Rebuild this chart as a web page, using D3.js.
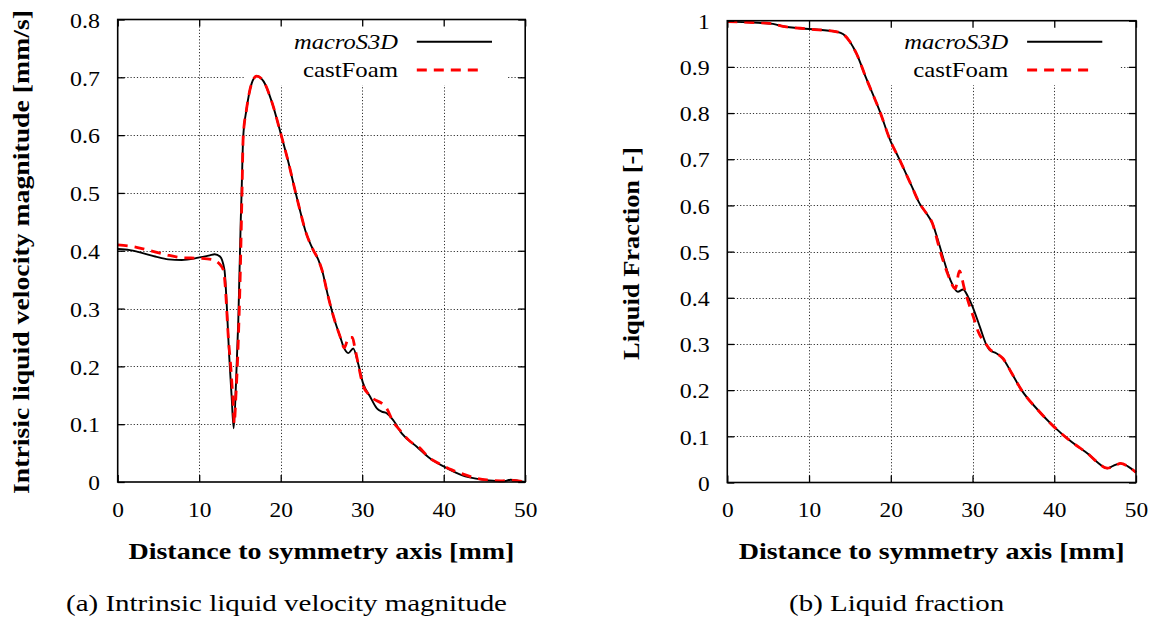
<!DOCTYPE html>
<html>
<head>
<meta charset="utf-8">
<script src="https://cdn.jsdelivr.net/npm/d3@7/dist/d3.min.js"></script>
<style>
html,body{margin:0;padding:0;background:#fff;}
svg{display:block;}
text{font-family:"Liberation Serif","DejaVu Serif",serif;}
</style>
</head>
<body>
<svg id="chart" width="1155" height="619"></svg>
<script>
// ---------------- data ----------------
const xTicks = [0, 10, 20, 30, 40, 50];
const xTickLabels = ["0", "10", "20", "30", "40", "50"];
const velTicks = [0, 0.1, 0.2, 0.3, 0.4, 0.5, 0.6, 0.7, 0.8];
const velTickLabels = ["0", "0.1", "0.2", "0.3", "0.4", "0.5", "0.6", "0.7", "0.8"];
const fracTicks = [0, 0.1, 0.2, 0.3, 0.4, 0.5, 0.6, 0.7, 0.8, 0.9, 1];
const fracTickLabels = ["0", "0.1", "0.2", "0.3", "0.4", "0.5", "0.6", "0.7", "0.8", "0.9", "1"];
const seriesNames = ["macroS3D", "castFoam"];

// (a) velocity, macroS3D
const velMacroX = [0, 1.5, 2.5, 4.6, 6.2, 7.85, 9.9, 11.3, 11.9, 12.55, 13.1, 13.37, 13.66, 13.98, 14.23, 14.5, 14.8, 15.1, 15.2, 15.4, 15.8, 16.45, 17.05, 17.9, 18.9, 20.0, 21.0, 21.75, 22.4, 23.0, 24.0, 24.6, 25.1, 25.8, 26.5, 27.3, 27.7, 28.3, 28.9, 29.5, 30.1, 30.96, 31.8, 32.4, 33.0, 33.8, 34.85, 36.7, 38.3, 40.2, 42.2, 44.5, 46.3, 47.3, 48.2, 49.2, 50];
const velMacroY = [0.403, 0.401, 0.398, 0.390, 0.385, 0.384, 0.388, 0.392, 0.394, 0.390, 0.367, 0.309, 0.223, 0.148, 0.093, 0.165, 0.280, 0.453, 0.4995, 0.597, 0.644, 0.690, 0.702, 0.693, 0.658, 0.603, 0.550, 0.505, 0.468, 0.436, 0.401, 0.385, 0.365, 0.322, 0.285, 0.251, 0.234, 0.223, 0.231, 0.205, 0.171, 0.148, 0.1275, 0.1217, 0.119, 0.107, 0.084, 0.061, 0.041, 0.0254, 0.012, 0.0046, 0.002, 0.001, 0.004, 0.002, 0.0];
// (a) velocity, castFoam
const velCastX = [0, 2, 4, 6, 8, 10, 11.5, 12.5, 13.0, 13.2, 13.57, 13.9, 14.19, 14.3, 14.5, 14.77, 15.05, 15.25, 15.4, 15.8, 16.45, 17.05, 17.9, 18.9, 20.0, 21.0, 21.75, 22.4, 23.0, 24.0, 24.6, 25.1, 25.8, 26.5, 27.3, 27.8, 28.35, 28.8, 29.1, 29.5, 30.1, 30.9, 33.0, 33.8, 34.6, 35.9, 36.9, 38.3, 39.3, 41.0, 42.0, 44.2, 45.3, 47.0, 48.2, 50];
const velCastY = [0.410, 0.407, 0.400, 0.393, 0.388, 0.387, 0.385, 0.377, 0.365, 0.338, 0.251, 0.194, 0.130, 0.101, 0.148, 0.234, 0.367, 0.4995, 0.597, 0.644, 0.690, 0.702, 0.693, 0.658, 0.603, 0.550, 0.505, 0.468, 0.436, 0.401, 0.385, 0.365, 0.322, 0.285, 0.251, 0.232, 0.250, 0.250, 0.232, 0.205, 0.167, 0.150, 0.1275, 0.104, 0.090, 0.070, 0.061, 0.041, 0.033, 0.021, 0.0155, 0.006, 0.0035, 0.002, 0.003, 0.0];

// (b) liquid fraction, macroS3D
const fracMacroX = [0, 3.18, 5.6, 6.65, 10.0, 13.4, 14.2, 15.0, 15.8, 17.0, 18.67, 20.0, 21.0, 22.6, 23.5, 24.35, 25.1, 25.7, 26.37, 27.3, 28.2, 28.85, 29.46, 30.0, 30.9, 31.7, 32.1, 32.9, 33.7, 34.8, 36.0, 38.0, 39.95, 42.1, 44.3, 45.2, 46.5, 47.2, 48.1, 49.0, 50];
const fracMacroY = [0.998, 0.996, 0.993, 0.9885, 0.982, 0.976, 0.9705, 0.9545, 0.929, 0.875, 0.803, 0.738, 0.702, 0.640, 0.605, 0.583, 0.561, 0.529, 0.489, 0.4385, 0.413, 0.418, 0.402, 0.381, 0.337, 0.298, 0.287, 0.280, 0.269, 0.2365, 0.200, 0.157, 0.121, 0.088, 0.0595, 0.045, 0.031, 0.036, 0.0415, 0.035, 0.022];
// (b) liquid fraction, castFoam
const fracCastX = [0, 3.2, 5.6, 6.65, 10.0, 13.4, 14.2, 15.0, 15.8, 17.0, 18.67, 20.0, 21.0, 22.6, 23.5, 24.35, 25.1, 25.9, 26.37, 27.0, 27.9, 28.4, 29.0, 29.5, 30.1, 30.7, 31.6, 32.2, 32.9, 33.7, 34.8, 36.0, 38.0, 39.95, 42.1, 44.3, 45.2, 46.5, 47.6, 48.1, 49.0, 50];
const fracCastY = [0.998, 0.996, 0.993, 0.9885, 0.982, 0.976, 0.9705, 0.9545, 0.929, 0.875, 0.803, 0.738, 0.702, 0.640, 0.605, 0.583, 0.561, 0.510, 0.482, 0.450, 0.420, 0.458, 0.420, 0.390, 0.359, 0.3265, 0.301, 0.287, 0.280, 0.269, 0.2365, 0.200, 0.157, 0.121, 0.088, 0.0595, 0.045, 0.031, 0.038, 0.0415, 0.035, 0.022];

// ---------------- drawing ----------------
const svg = d3.select("#chart");
const tickLen = s => s.replace(/[^0-9]/g, "").length * 11.7 + s.replace(/[0-9]/g, "").length * 6.5;

function panel(opt) {
  const x = d3.scaleLinear().domain([0, 50]).range(opt.xRange);
  const y = d3.scaleLinear().domain(opt.yDomain).range(opt.yRange);
  const g = svg.append("g");
  const [x0, x1] = opt.xRange;
  const [y0, y1] = opt.yRange; // y0 bottom, y1 top

  // grid
  const grid = g.append("g").attr("stroke", "#333").attr("stroke-width", 1)
    .attr("stroke-dasharray", "1.2,2").attr("fill", "none");
  grid.selectAll("line.v").data(opt.xTicks.slice(1, -1)).join("line")
    .attr("x1", d => Math.round(x(d)) + 0.5).attr("x2", d => Math.round(x(d)) + 0.5)
    .attr("y1", y0).attr("y2", y1);
  grid.selectAll("line.h").data(opt.yTicks.slice(1, -1)).join("line")
    .attr("y1", d => Math.round(y(d)) + 0.5).attr("y2", d => Math.round(y(d)) + 0.5)
    .attr("x1", x0).attr("x2", x1);

  // legend box (opaque)
  g.append("rect").attr("x", opt.legendBox[0]).attr("y", y1 + 1)
    .attr("width", opt.legendBox[1] - opt.legendBox[0]).attr("height", opt.legendBox[2] - y1 - 1)
    .attr("fill", "#fff");

  // curves
  const line = d3.line().x(d => x(d[0])).y(d => y(d[1])).curve(d3.curveMonotoneX);
  const macro = opt.macroX.map((v, i) => [v, opt.macroY[i]]);
  const cast = opt.castX.map((v, i) => [v, opt.castY[i]]);
  g.append("path").attr("d", line(macro)).attr("fill", "none")
    .attr("stroke", "#000").attr("stroke-width", 1.9).attr("stroke-linejoin", "round");
  g.append("path").attr("d", line(cast)).attr("fill", "none")
    .attr("stroke", "#ff0000").attr("stroke-width", 2.8).attr("stroke-dasharray", "10,7");

  // legend entries
  const lx = opt.legendTextRight;
  g.append("text").attr("x", lx).attr("y", 48.5).attr("text-anchor", "end")
    .attr("font-style", "italic").attr("font-size", 22)
    .attr("textLength", 104).attr("lengthAdjust", "spacingAndGlyphs").text(seriesNames[0]);
  g.append("text").attr("x", lx).attr("y", 76.7).attr("text-anchor", "end")
    .attr("font-size", 22)
    .attr("textLength", 95).attr("lengthAdjust", "spacingAndGlyphs").text(seriesNames[1]);
  g.append("line").attr("x1", lx + 18.8).attr("x2", lx + 94).attr("y1", 41.7).attr("y2", 41.7)
    .attr("stroke", "#000").attr("stroke-width", 1.9);
  g.append("line").attr("x1", lx + 18.8).attr("x2", lx + 81).attr("y1", 70).attr("y2", 70)
    .attr("stroke", "#ff0000").attr("stroke-width", 2.8).attr("stroke-dasharray", "10,7");

  // axes (ticks inward on all four sides)
  function styleAxis(sel) {
    sel.select(".domain").remove();
    sel.selectAll(".tick line").attr("stroke", "#000").attr("stroke-width", 1.3);
    sel.attr("font-family", null).attr("font-size", 21.5);
    sel.selectAll(".tick text").attr("fill", "#000")
      .attr("textLength", function () { const s = this.textContent; return s ? tickLen(s) : null; })
      .attr("lengthAdjust", "spacingAndGlyphs");
  }
  const ax = g.append("g").attr("transform", `translate(0,${y0})`)
    .call(d3.axisBottom(x).tickValues(opt.xTicks).tickSize(-7)
      .tickFormat((d, i) => xTickLabels[i]));
  styleAxis(ax);
  ax.selectAll(".tick text").attr("y", 34.7).attr("dy", null);

  const axT = g.append("g").attr("transform", `translate(0,${y1})`)
    .call(d3.axisTop(x).tickValues(opt.xTicks).tickSize(-7).tickFormat(""));
  styleAxis(axT);

  const ay = g.append("g").attr("transform", `translate(${x0},0)`)
    .call(d3.axisLeft(y).tickValues(opt.yTicks).tickSize(-7).tickPadding(17.7)
      .tickFormat((d, i) => opt.yTickLabels[i]));
  styleAxis(ay);
  ay.selectAll(".tick text").attr("y", 7.7).attr("dy", null);

  const ayR = g.append("g").attr("transform", `translate(${x1},0)`)
    .call(d3.axisRight(y).tickValues(opt.yTicks).tickSize(-7).tickFormat(""));
  styleAxis(ayR);

  // frame
  g.append("rect").attr("x", x0).attr("y", y1).attr("width", x1 - x0).attr("height", y0 - y1)
    .attr("fill", "none").attr("stroke", "#000").attr("stroke-width", 1.6);

  // axis titles
  g.append("text").attr("x", (x0 + x1) / 2).attr("y", 559.3).attr("text-anchor", "middle")
    .attr("font-weight", "bold").attr("font-size", 22.5)
    .attr("textLength", 386).attr("lengthAdjust", "spacingAndGlyphs")
    .text("Distance to symmetry axis [mm]");
  g.append("text").attr("transform", `translate(${opt.yTitle[0]},${opt.yTitle[1]}) rotate(-90)`)
    .attr("text-anchor", "middle")
    .attr("font-weight", "bold").attr("font-size", 22.5)
    .attr("textLength", opt.yTitle[2]).attr("lengthAdjust", "spacingAndGlyphs")
    .text(opt.yTitleText);

  // caption
  g.append("text").attr("x", opt.caption[0]).attr("y", 610.5).attr("text-anchor", "middle")
    .attr("font-size", 23)
    .attr("textLength", opt.caption[1]).attr("lengthAdjust", "spacingAndGlyphs")
    .text(opt.captionText);
}

panel({
  xRange: [117.7, 525.2], yDomain: [0, 0.8], yRange: [482, 19.5],
  xTicks: xTicks, yTicks: velTicks, yTickLabels: velTickLabels,
  macroX: velMacroX, macroY: velMacroY, castX: velCastX, castY: velCastY,
  legendBox: [245, 507, 85], legendTextRight: 398,
  yTitle: [28.5, 252, 484], yTitleText: "Intrisic liquid velocity magnitude [mm/s]",
  caption: [286.5, 441], captionText: "(a) Intrinsic liquid velocity magnitude"
});

panel({
  xRange: [727.3, 1136], yDomain: [0, 1], yRange: [482.5, 20.7],
  xTicks: xTicks, yTicks: fracTicks, yTickLabels: fracTickLabels,
  macroX: fracMacroX, macroY: fracMacroY, castX: fracCastX, castY: fracCastY,
  legendBox: [855, 1119, 85], legendTextRight: 1008.3,
  yTitle: [638.5, 253.4, 213], yTitleText: "Liquid Fraction [-]",
  caption: [896.6, 215], captionText: "(b) Liquid fraction"
});
</script>
</body>
</html>
